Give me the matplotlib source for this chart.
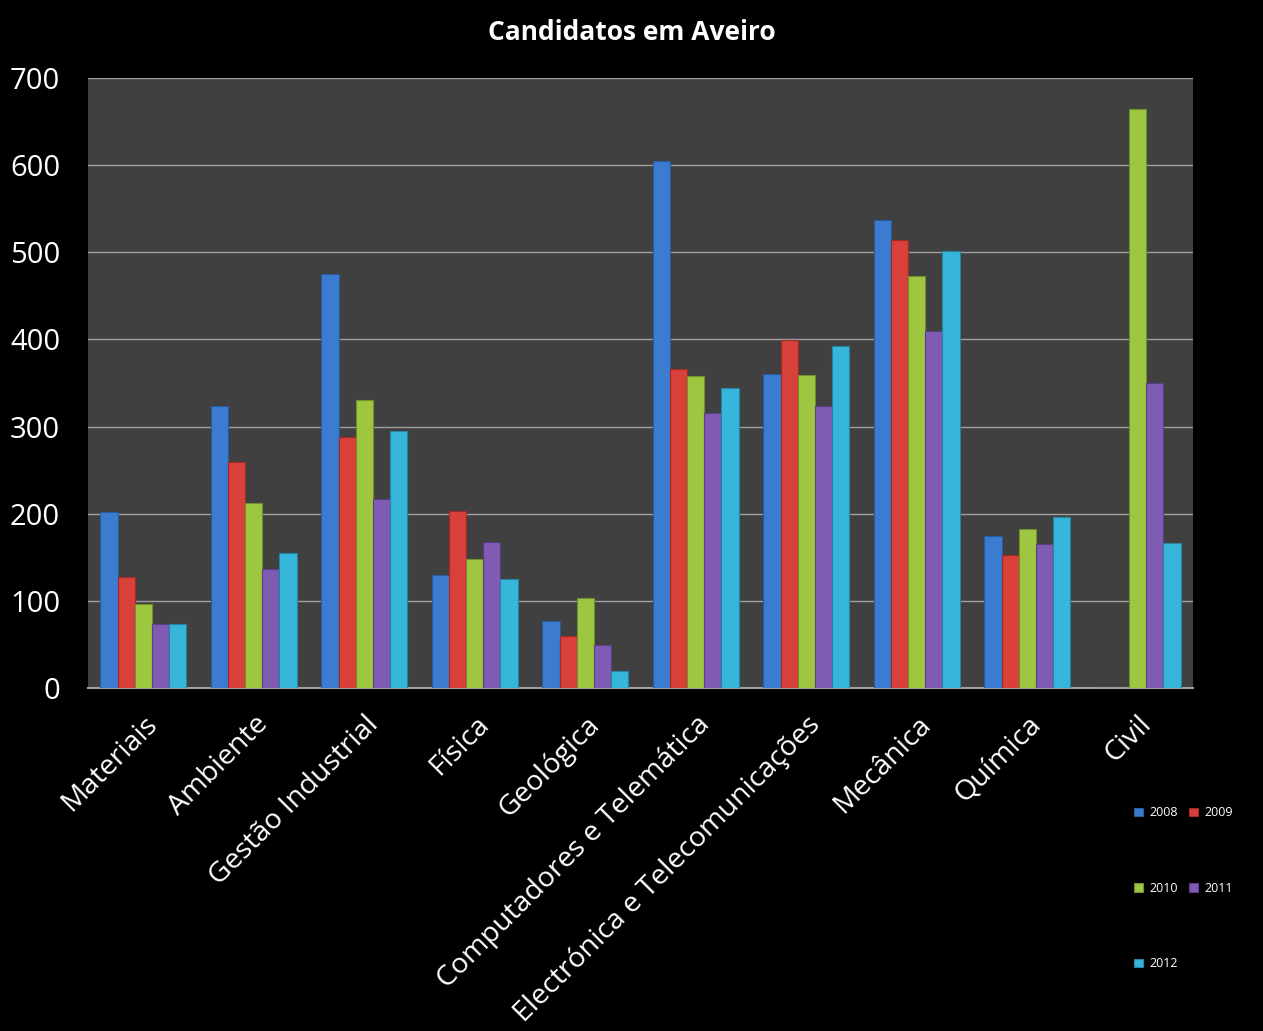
import matplotlib
matplotlib.use("Agg")
import matplotlib.pyplot as plt
import numpy as np

categories = ["Materiais", "Ambiente", "Gestão Industrial", "Física", "Geológica",
              "Computadores e Telemática", "Electrónica e Telecomunicações",
              "Mecânica", "Química", "Civil"]
years = ["2008", "2009", "2010", "2011", "2012"]
v2008 = [202, 324, 475, 130, 77, 605, 360, 537, 175, 0]
v2009 = [127, 259, 288, 203, 60, 366, 399, 514, 153, 0]
v2010 = [96, 212, 330, 148, 103, 358, 359, 473, 182, 665]
v2011 = [73, 136, 217, 167, 49, 316, 324, 410, 165, 350]
v2012 = [74, 155, 295, 125, 19, 344, 393, 502, 196, 166]
series = [v2008, v2009, v2010, v2011, v2012]
colors = ["#3b7bd0", "#d8403a", "#9fc640", "#7f5bb3", "#35b6da"]
edges = ["#2a5a9a", "#9e2b27", "#71902c", "#5a3f82", "#2585a0"]

plt.rcParams['font.family'] = ['Open Sans', 'DejaVu Sans']

fig = plt.figure(figsize=(12.63, 10.31), dpi=100, facecolor="black")
ax = fig.add_axes([88/1263, 1 - 688/1031, (1193-88)/1263, (688-78)/1031])
ax.set_facecolor("#404040")

x = np.arange(len(categories))
w = 0.155
handles = []
for i, (vals, c, e) in enumerate(zip(series, colors, edges)):
    b = ax.bar(x + (i - 2) * w, vals, width=w, color=c, edgecolor=e, linewidth=0.8,
               label=years[i], zorder=3)
    handles.append(b)

ax.set_xlim(-0.5, len(categories) - 0.5)
ax.set_ylim(0, 700)
ax.set_yticks(range(0, 701, 100))
ax.yaxis.grid(True, color="#a0a0a0", linewidth=1, zorder=0)
ax.set_axisbelow(True)
for s in ["top", "right", "left"]:
    ax.spines[s].set_visible(False)
ax.spines["bottom"].set_color("#a0a0a0")
ax.spines["bottom"].set_linewidth(1.5)
ax.tick_params(axis="y", length=0, labelsize=21, labelcolor="white", pad=20)
ax.tick_params(axis="x", length=0, labelsize=20.5, labelcolor="white", pad=16)
ax.set_xticks(x)
ax.set_xticklabels(categories, rotation=45, ha="right", rotation_mode="anchor")

fig.text(0.5, 1 - 32/1031, "Candidatos em Aveiro", color="white", fontsize=19,
         fontweight="bold", ha="center", va="center")

order = [0, 2, 4, 1, 3]
leg = fig.legend([handles[k] for k in order], [years[k] for k in order],
                 loc="upper left", bbox_to_anchor=(1123/1263, 1 - 795/1031),
                 ncol=2, frameon=False, fontsize=9, labelcolor="white",
                 handlelength=0.7, handleheight=0.7, handletextpad=0.5,
                 columnspacing=0.9, labelspacing=5.0)

fig.savefig("out.png", dpi=100, facecolor="black")
